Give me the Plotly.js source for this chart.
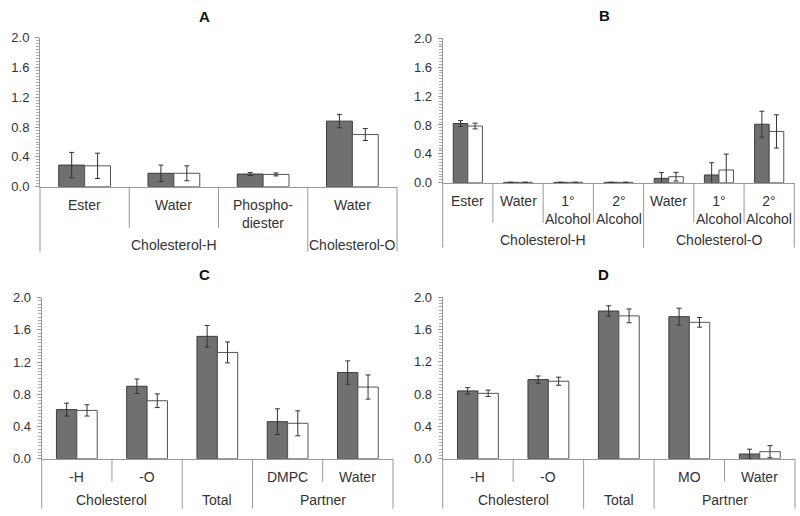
<!DOCTYPE html>
<html><head><meta charset="utf-8">
<script src="https://cdn.plot.ly/plotly-3.0.1.min.js"></script>
<style>html,body{margin:0;padding:0;background:#fff}#chart{width:800px;height:516px}</style>
</head><body><div id="chart"></div>
<script>
// ---------- Data ----------
// Panel A
const catsA = ['Ester', 'Water', 'Phospho-<br>diester', 'Water'];
const groupsA = ['Cholesterol-H', 'Cholesterol-H', 'Cholesterol-H', 'Cholesterol-O'];
const darkA = [0.29, 0.18, 0.17, 0.88];
const darkErrA = [0.17, 0.11, 0.02, 0.09];
const whiteA = [0.28, 0.18, 0.165, 0.70];
const whiteErrA = [0.17, 0.10, 0.02, 0.08];

// Panel B
const catsB = ['Ester', 'Water', '1°<br>Alcohol', '2°<br>Alcohol', 'Water', '1°<br>Alcohol', '2°<br>Alcohol'];
const groupsB = ['Cholesterol-H', 'Cholesterol-H', 'Cholesterol-H', 'Cholesterol-H', 'Cholesterol-O', 'Cholesterol-O', 'Cholesterol-O'];
const darkB = [0.82, 0.005, 0.005, 0.005, 0.06, 0.107, 0.81];
const darkErrB = [0.04, 0, 0, 0, 0.08, 0.17, 0.18];
const whiteB = [0.785, 0.005, 0.005, 0.005, 0.083, 0.176, 0.71];
const whiteErrB = [0.04, 0, 0, 0, 0.06, 0.22, 0.23];

// Panel C
const catsC = ['-H', '-O', '', 'DMPC', 'Water'];
const groupsC = ['Cholesterol', 'Cholesterol', 'Total', 'Partner', 'Partner'];
const darkC = [0.61, 0.90, 1.52, 0.46, 1.07];
const darkErrC = [0.08, 0.09, 0.135, 0.16, 0.145];
const whiteC = [0.60, 0.72, 1.32, 0.44, 0.89];
const whiteErrC = [0.07, 0.085, 0.13, 0.155, 0.15];

// Panel D
const catsD = ['-H', '-O', '', 'MO', 'Water'];
const groupsD = ['Cholesterol', 'Cholesterol', 'Total', 'Partner', 'Partner'];
const darkD = [0.84, 0.98, 1.83, 1.76, 0.058];
const darkErrD = [0.04, 0.045, 0.065, 0.105, 0.06];
const whiteD = [0.81, 0.96, 1.77, 1.69, 0.087];
const whiteErrD = [0.04, 0.05, 0.085, 0.06, 0.075];

const panelTitles = ['A', 'B', 'C', 'D'];

// ---------- Layout config ----------
const W = 800, H = 516;
const FONT = 'Liberation Sans, Arial, sans-serif';
const panels = [
  {cats: catsA, groups: groupsA, dark: darkA, darkErr: darkErrA, white: whiteA, whiteErr: whiteErrA,
   ax: '', px: [40, 397], py: [37.7, 186.7], title: [204, 16.7],
   innerTop: 8, groupMid: 58, innerDiv: 41, groupDiv: 65},
  {cats: catsB, groups: groupsB, dark: darkB, darkErr: darkErrB, white: whiteB, whiteErr: whiteErrB,
   ax: '2', px: [442.7, 794.3], py: [38.3, 182.7], title: [604, 15.5],
   innerTop: 8, groupMid: 57, innerDiv: 40, groupDiv: 65},
  {cats: catsC, groups: groupsC, dark: darkC, darkErr: darkErrC, white: whiteC, whiteErr: whiteErrC,
   ax: '3', px: [41.7, 393], py: [297.7, 458.7], title: [204, 274.3],
   innerTop: 8, groupMid: 41, innerDiv: 23, groupDiv: 50},
  {cats: catsD, groups: groupsD, dark: darkD, darkErr: darkErrD, white: whiteD, whiteErr: whiteErrD,
   ax: '4', px: [442.7, 795], py: [297.3, 458.7], title: [603, 274.3],
   innerTop: 8, groupMid: 41, innerDiv: 23, groupDiv: 50}
];

const data = [];
const layout = {
  width: W, height: H,
  margin: {l: 0, r: 0, t: 0, b: 0, pad: 0},
  paper_bgcolor: '#fff', plot_bgcolor: '#fff',
  showlegend: false, hovermode: false,
  barmode: 'group', bargap: 0.42, bargroupgap: 0,
  font: {family: FONT, size: 13, color: '#333'},
  annotations: [], shapes: []
};

const LINE = '#999';
const LABEL_FONT = {family: FONT, size: 14, color: '#333'};

panels.forEach((p, k) => {
  const xa = 'x' + p.ax, ya = 'y' + p.ax;
  const xs = p.cats.map((_, i) => i);
  data.push({
    type: 'bar', x: xs, y: p.dark, xaxis: xa, yaxis: ya,
    marker: {color: '#707070', line: {color: '#3c3c3c', width: 1}},
    error_y: {type: 'data', array: p.darkErr, visible: true, color: '#333', thickness: 1, width: 2.5}
  });
  data.push({
    type: 'bar', x: xs, y: p.white, xaxis: xa, yaxis: ya,
    marker: {color: '#ffffff', line: {color: '#555', width: 1}},
    error_y: {type: 'data', array: p.whiteErr, visible: true, color: '#333', thickness: 1, width: 2.5}
  });
  const xKey = 'xaxis' + p.ax, yKey = 'yaxis' + p.ax;
  layout[xKey] = {
    domain: [p.px[0] / W, p.px[1] / W], anchor: ya,
    range: [-0.5, p.cats.length - 0.5], showticklabels: false, ticks: '',
    showline: true, linecolor: LINE, linewidth: 1, showgrid: false, zeroline: false, fixedrange: true
  };
  layout[yKey] = {
    domain: [1 - p.py[1] / H, 1 - p.py[0] / H], anchor: xa,
    range: [0, 2], tick0: 0, dtick: 0.4, tickformat: '.1f',
    ticks: 'outside', ticklen: 4, tickcolor: LINE, tickwidth: 1, ticklabelstandoff: 3,
    minor: {dtick: 0.04, ticks: 'outside', ticklen: 3, tickcolor: '#aaa', tickwidth: 1, showgrid: false},
    showline: true, linecolor: LINE, linewidth: 1, showgrid: false, zeroline: false, fixedrange: true,
    tickfont: {family: FONT, size: 13, color: '#333'}
  };
  const yDom = ya + ' domain';
  // inner labels
  p.cats.forEach((c, i) => {
    if (!c) return;
    layout.annotations.push({
      xref: xa, yref: yDom, x: i, y: 0, yanchor: 'top', xanchor: 'center',
      yshift: -p.innerTop, text: c, showarrow: false, font: LABEL_FONT
    });
  });
  // group labels and dividers
  let start = 0;
  for (let i = 1; i <= p.groups.length; i++) {
    if (i === p.groups.length || p.groups[i] !== p.groups[start]) {
      layout.annotations.push({
        xref: xa, yref: yDom, x: (start + i - 1) / 2, y: 0, yanchor: 'middle', xanchor: 'center',
        yshift: -p.groupMid, text: p.groups[start], showarrow: false, font: LABEL_FONT
      });
      start = i;
    }
  }
  for (let i = 0; i < p.cats.length - 1; i++) {
    const long = p.groups[i] !== p.groups[i + 1];
    layout.shapes.push({
      type: 'line', xref: xa, x0: i + 0.5, x1: i + 0.5,
      yref: yDom, ysizemode: 'pixel', yanchor: 0, y0: 0, y1: -(long ? p.groupDiv : p.innerDiv),
      line: {color: LINE, width: 1}
    });
  }
  [0, 1].forEach(e => {
    layout.shapes.push({
      type: 'line', xref: xa + ' domain', x0: e, x1: e,
      yref: yDom, ysizemode: 'pixel', yanchor: 0, y0: 0, y1: -p.groupDiv,
      line: {color: LINE, width: 1}
    });
  });
  // panel title
  layout.annotations.push({
    xref: 'paper', yref: 'paper', x: p.title[0] / W, y: 1 - p.title[1] / H,
    xanchor: 'center', yanchor: 'middle', text: '<b>' + panelTitles[k] + '</b>', showarrow: false,
    font: {family: FONT, size: 15, color: '#111'}
  });
});

Plotly.newPlot('chart', data, layout, {staticPlot: true, displayModeBar: false});
</script>
</body></html>
